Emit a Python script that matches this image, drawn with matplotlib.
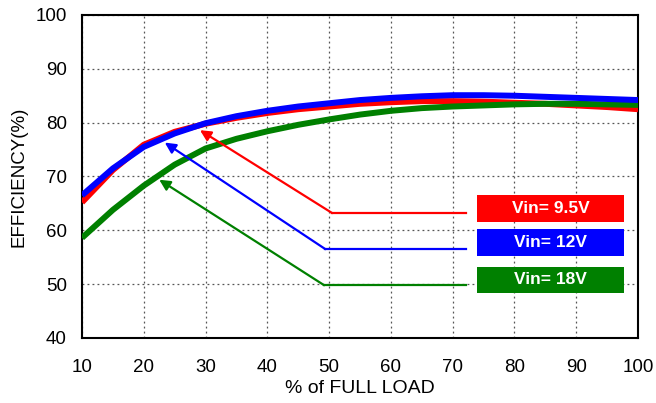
import matplotlib
matplotlib.use("Agg")
import matplotlib.pyplot as plt

plt.rcParams['font.family'] = ['Liberation Sans', 'DejaVu Sans']

load = [10, 15, 20, 25, 30, 35, 40, 45, 50, 55, 60, 65, 70, 75, 80, 85, 90, 95, 100]
eff_95 = [65.2, 71.2, 75.9, 78.3, 79.8, 80.9, 81.8, 82.5, 83.0, 83.5, 83.8, 84.0, 84.0, 83.9, 83.7, 83.5, 83.2, 82.9, 82.5]
eff_12 = [66.5, 71.5, 75.5, 78.0, 79.9, 81.2, 82.2, 83.0, 83.6, 84.2, 84.6, 84.9, 85.1, 85.1, 85.0, 84.8, 84.6, 84.4, 84.2]
eff_18 = [58.6, 63.8, 68.3, 72.2, 75.2, 77.0, 78.4, 79.6, 80.6, 81.5, 82.2, 82.7, 83.0, 83.2, 83.4, 83.5, 83.5, 83.4, 83.3]

labels = ['Vin= 9.5V', 'Vin= 12V', 'Vin= 18V']
colors = ['#ff0000', '#0000ff', '#008000']
callout_y = [63.2, 56.5, 49.8]
callout_elbow_x = [50.5, 49.4, 49.2]
callout_end_x = [72.1, 72.1, 72.1]
head_x = [29.1, 23.4, 22.5]
head_y = [78.6, 76.3, 69.4]

fig = plt.figure(figsize=(6.56, 4.03), dpi=100)
ax = fig.add_axes([0.125, 0.1613, 0.8476, 0.8015])
ax.set_xlim(10, 100)
ax.set_ylim(40, 100)
ax.set_xticks(range(10, 101, 10))
ax.set_yticks(range(40, 101, 10))
ax.grid(True, color='#555555', linestyle=(0, (1.5, 2.5)), linewidth=0.9)
ax.tick_params(length=0, labelsize=13.5)
ax.tick_params(axis='x', pad=15)
ax.tick_params(axis='y', pad=11)
for s in ax.spines.values():
    s.set_linewidth(1.5)
ax.set_xlabel('% of FULL LOAD', fontsize=14, labelpad=3)
ax.set_ylabel('EFFICIENCY(%)', fontsize=13.5, labelpad=6)

series = [eff_95, eff_18, eff_12]
cols = [colors[0], colors[2], colors[1]]
for ys, c in zip(series, cols):
    ax.plot(load, ys, color=c, linewidth=4.3, solid_capstyle='butt', zorder=3)

for i in range(3):
    ax.plot([callout_end_x[i], callout_elbow_x[i]], [callout_y[i], callout_y[i]], color=colors[i], lw=1.6, zorder=4)
    ax.annotate('', xy=(head_x[i], head_y[i]), xytext=(callout_elbow_x[i], callout_y[i]),
                arrowprops=dict(arrowstyle='-|>', color=colors[i], lw=1.6, mutation_scale=16, shrinkA=0, shrinkB=0),
                zorder=4)

boxes = [(195, 221.7), (229.3, 256), (266.7, 292.7)]
fig_h = 403
for i, (top, bot) in enumerate(boxes):
    y0 = (fig_h - bot) / fig_h
    hgt = (bot - top) / fig_h
    x0 = 477 / 656
    w = (624 - 477) / 656
    rect = plt.Rectangle((x0, y0), w, hgt, transform=fig.transFigure, facecolor=colors[i],
                         edgecolor='none', zorder=5)
    fig.patches.append(rect)
    fig.text(x0 + w / 2, y0 + hgt / 2, labels[i], color='white', fontsize=12.5, fontweight='bold',
             ha='center', va='center', zorder=6)

fig.savefig('out.png', dpi=100)
